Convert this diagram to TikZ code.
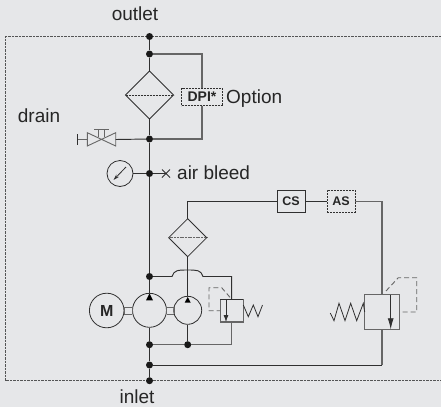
\documentclass[tikz,border=0pt]{standalone}
\usepackage{fontspec}
\setmainfont{Liberation Sans}
\usetikzlibrary{arrows.meta,calc}
\definecolor{bgc}{HTML}{E6E7E9}
\definecolor{lnc}{HTML}{303030}
\definecolor{grl}{HTML}{666666}
\definecolor{txc}{HTML}{262626}
\tikzset{
 x=1pt,y=-1pt,
 pipe/.style={draw=lnc,line width=0.95pt},
 gpipe/.style={draw=grl,line width=1.15pt},
 sym/.style={draw=lnc,line width=0.8pt},
 pilot/.style={draw=grl,line width=0.9pt,dash pattern=on 5pt off 3pt},
 frameb/.style={draw=lnc!80!bgc,line width=0.7pt,dash pattern=on 2.5pt off 1pt},
 dot/.style={circle,fill=black!90,inner sep=0pt,minimum size=7pt},
 lab/.style={text=txc,font=\fontsize{19}{21}\selectfont,inner sep=0pt},
 tagbox/.style={draw=lnc,line width=0.8pt,fill=bgc,minimum height=22pt,minimum width=28pt,inner sep=0pt,font=\bfseries\fontsize{12.5}{14}\selectfont,text=txc},
 circ/.style={circle,draw=lnc,line width=0.8pt,fill=bgc,inner sep=0pt},
}
\begin{document}
\begin{tikzpicture}
\useasboundingbox[fill=bgc] (0,0) rectangle (441,407);
\draw[frameb] (441,36.5) -- (5.5,36.5) -- (5.5,380.7) -- (441,380.7);
% dots
\node[dot] (d1) at (149.5,36.5) {};
\node[dot] (d2) at (149.5,54) {};
\node[dot] (d3) at (149.5,139) {};
\node[dot] (d4) at (149.5,173.5) {};
\node[dot] (d5) at (149.5,276.5) {};
\node[dot] (d6) at (149.5,344.7) {};
\node[dot] (d7) at (187.7,344.7) {};
\node[dot] (d8) at (149.5,365) {};
\node[dot] (d9) at (149.5,380.7) {};
% main filter
\coordinate (ft) at (149.5,71);
\coordinate (fb) at (149.5,119);
\coordinate (fl) at (125.5,95);
\coordinate (fr) at (173.5,95);
\draw[sym] (ft)--(fr)--(fb)--(fl)--cycle;
\draw[draw=lnc,line width=0.6pt,dash pattern=on 2pt off 1pt] (fl)--(fr);
\draw[pipe] (d1)--(d2)--(ft) (fb)--(d3)--(d4)--(d5);
% DPI
\node[draw=lnc,line width=0.6pt,dash pattern=on 2pt off 1pt,fill=bgc,minimum width=41pt,minimum height=17.5pt,inner sep=0pt,font=\bfseries\fontsize{14}{16}\selectfont,text=txc] (dpi) at (202,96.8) {DPI*};
\node[lab,anchor=base west] (opt) at (226,103) {Option};
\draw[gpipe] (d2)-|(dpi.north);
\draw[gpipe] (dpi.south)|-(d3);
% drain valve
\coordinate (vr) at (115.7,139.5);
\coordinate (vl) at (87.3,139.5);
\coordinate (vc) at (101.5,139.5);
\coordinate (vs) at (77.3,139.5);
\draw[draw=grl,line width=0.9pt] (87.3,132.7)--(115.7,146)--(115.7,132.7)--(87.3,146)--cycle;
\draw[draw=grl,line width=0.9pt] (98.3,129.3)--(98.3,137) (104.3,129.3)--(104.3,137) (94,129.3)--(108.7,129.3);
\draw[draw=grl,line width=0.9pt] (vs)--(vl);
\draw[sym] (77.3,134)--(77.3,144.5);
\draw[pipe] (vr)--(d3);
\node[lab,anchor=base] (drain) at (39,122.5) {drain};
% gauge
\node[circ,minimum size=26pt] (g) at (120,173.5) {};
\draw[sym,{Stealth[length=6pt,width=3.5pt]}-] (113.5,180)--(126,167) ;
\coordinate (xb) at (166,173.5);
\draw[sym] (g)--(d4)--(xb);
\draw[sym] (162,169.5)--(170,177.5) (162,177.5)--(170,169.5);
\node[lab,anchor=base west] (air) at (177,179.5) {air bleed};
% labels
\node[lab,anchor=base] (outlet) at (135,20.5) {outlet};
\node[lab,anchor=base] (inlet) at (137,403.5) {inlet};
% second filter
\coordinate (f2t) at (187.7,218.7);
\coordinate (f2b) at (187.7,256.7);
\coordinate (f2l) at (168.7,237.7);
\coordinate (f2r) at (206.7,237.7);
\draw[sym] (f2t)--(f2r)--(f2b)--(f2l)--cycle;
\draw[draw=grl,line width=0.9pt,dash pattern=on 2pt off 0.7pt] (f2l)--(f2r);
% boxes
\node[tagbox] (cs) at (291,201.3) {CS};
\node[tagbox,line width=0.7pt,dash pattern=on 2pt off 1pt] (as) at (341,201.3) {AS};
\draw[pipe] (f2t)|-(cs.west);
\draw[pipe] (cs)--(as);
% right valve
\coordinate (rvt) at (382,294.7);
\coordinate (rvb) at (382,329.3);
\draw[gpipe] (as.east)-|(rvt);
\draw[gpipe] (364.7,294.7) rectangle (399.3,329.3);
\draw[gpipe] (rvb)--(382,365);
\draw[pipe] (382,365)--(d8);
\draw[pipe] (d8)--(d6) (d8)--(d9);
\draw[sym,-{Latex[length=11pt,width=6pt]}] (390.7,294.7)--(390.7,329.3);
\draw[sym] (364.7,312)--(363.3,303.3)--(356.7,320.7)--(350.7,303.3)--(345,320.7)--(339,303.3)--(334,320.7)--(330.3,313);
\draw[pilot] (386,291)--(398.3,277.7)--(416.7,277.7)--(416.7,312)--(399.3,312);
% pumps
\draw[sym] (f2b)--(187.7,302);
\node[circ,minimum size=34pt] (pb) at (149.5,310.3) {};
\node[circ,minimum size=28pt] (ps) at (187.7,310.3) {};
\node[circ,minimum size=34.6pt,font=\bfseries\fontsize{16}{17}\selectfont,text=txc] (mot) at (106.7,310.5) {M};
\fill[black] (149.5,293.5)--(153,300.3)--(146,300.3)--cycle;
\fill[black] (187.7,297)--(190.7,302.6)--(184.7,302.6)--cycle;
\draw[pipe] (d5)--(pb.north);
\draw[sym,grl] (124,307.3)--(132.3,307.3) (124,314)--(132.3,314) (166.5,307.3)--(174,307.3) (166.5,314)--(174,314);
\draw[sym,grl] (124,307.3)--(124,314) (132.3,307.3)--(132.3,314) (166.5,307.3)--(166.5,314) (174,307.3)--(174,314);
\draw[pipe] (pb.south)--(d6);
\draw[pipe] (ps.south)--(d7);
% pump relief
\coordinate (sv) at (231.7,299.3);
\coordinate (svb) at (231.7,322);
\draw[pipe] (d5)--(172,276.5) .. controls (174,270) and (178,270) .. (187.7,270) .. controls (197,270) and (201,270) .. (203,276.5)--(231.7,276.5)--(sv);
\draw[sym] (f2b)--(187.7,270);
\draw[gpipe] (d6)--(d7)--(231.7,344.7)--(svb);
\draw[gpipe] (220.3,299.3) rectangle (243.3,322);
\draw[draw=lnc,line width=1pt] (220.3,299.3)--(243.3,299.3);
\draw[sym,-{Latex[length=7pt,width=5pt]}] (226,299.3)--(226,322);
\draw[sym] (243.3,305)--(248.3,316.7)--(253.3,305)--(258,316.7)--(262.5,305);
\draw[pilot] (230,297.3)--(221.7,287.7)--(209,287.7)--(209,310.7)--(220.3,310.7);
\end{tikzpicture}
\end{document}
